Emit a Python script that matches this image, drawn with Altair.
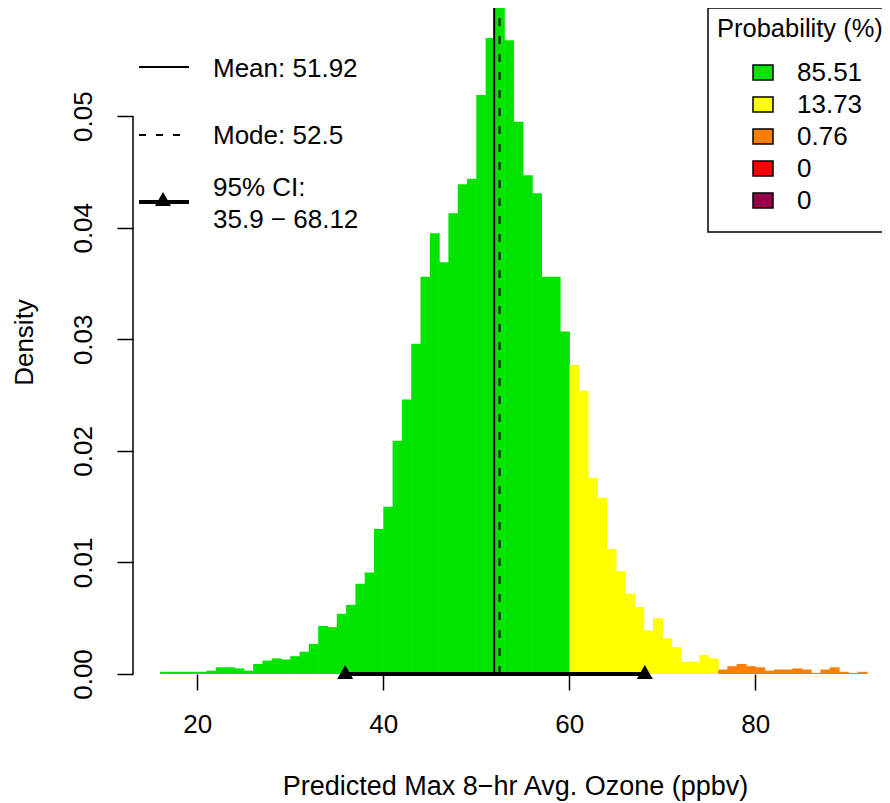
import altair as alt
import pandas as pd

# ---------------- data ----------------
bin_starts = list(range(16, 92))
density = [
    0.0002, 0.0002, 0.0002, 0.0002, 0.0002, 0.0003, 0.0006, 0.0006, 0.0005, 0.0003,   # 16-25
    0.0009, 0.0012, 0.0014, 0.0013, 0.0016, 0.0020, 0.0027, 0.0043, 0.0042, 0.0054,   # 26-35
    0.0062, 0.0081, 0.0091, 0.0130, 0.0150, 0.0209, 0.0246, 0.0296, 0.0356, 0.0395,   # 36-45
    0.0369, 0.0413, 0.0439, 0.0444, 0.0519, 0.0570, 0.0597, 0.0568, 0.0495, 0.0447,   # 46-55
    0.0431, 0.0356, 0.0356, 0.0307, 0.0277, 0.0254, 0.0176, 0.0158, 0.0112, 0.0092,   # 56-65
    0.0072, 0.0060, 0.0039, 0.0050, 0.0032, 0.0024, 0.0011, 0.0011, 0.0017, 0.0014,   # 66-75
    0.0004, 0.0007, 0.0009, 0.0007, 0.0006, 0.0003, 0.0004, 0.0004, 0.0005, 0.0004,   # 76-85
    0.0001, 0.0004, 0.0006, 0.0002, 0.0001, 0.0002,                                   # 86-91
]
category_names = ["Good", "Moderate", "USG", "Unhealthy", "Very Unhealthy"]
category_colors = ["#00E400", "#FFFF00", "#FF7E00", "#FF0000", "#99004C"]
category_breaks = [60, 76, 96, 116]
probabilities = [85.51, 13.73, 0.76, 0, 0]
mean_val = 51.92
mode_val = 52.5
ci_bounds = [35.9, 68.12]
x_ticks = [20, 40, 60, 80]
y_ticks = [0.0, 0.01, 0.02, 0.03, 0.04, 0.05]

def cat_of(v):
    return category_names[sum(1 for b in category_breaks if v >= b)]

df = pd.DataFrame({
    "start": bin_starts,
    "end": [s + 1 for s in bin_starts],
    "density": density,
    "category": [cat_of(s) for s in bin_starts],
})

# ---------------- layout ----------------
FONT = "Liberation Sans"
FS = 26
W, H = 749, 666
PX_PER_UNIT = 9.3
XMIN = 20 - 64.3 / PX_PER_UNIT
XMAX = XMIN + W / PX_PER_UNIT
YMAX = max(density)

label_expr = " : ".join(
    f"datum.label == '{n}' ? '{p:g}'" for n, p in zip(category_names, probabilities)
) + " : datum.label"

xscale = alt.Scale(domain=[XMIN, XMAX], nice=False, zero=False)
yscale = alt.Scale(domain=[0, YMAX], nice=False, zero=True)
cat_scale = alt.Scale(domain=category_names, range=category_colors)

x_axis = alt.Axis(
    values=x_ticks, format="d", title="Predicted Max 8\u2212hr Avg. Ozone (ppbv)",
    domain=False, tickSize=16, tickWidth=1.5, tickColor="black",
    labelBaseline="alphabetic", labelPadding=42, labelAngle=0, labelFlush=False,
    labelFont=FONT, labelFontSize=FS, labelColor="black",
    titleFont=FONT, titleFontSize=27, titleFontWeight="normal", titleColor="black",
    titleX=382, titleY=120, titleBaseline="alphabetic", titleAlign="center",
)
y_axis = alt.Axis(
    values=y_ticks, format=".2f", title="Density",
    domain=False, tickSize=16, tickWidth=1.5, tickColor="black",
    labelAngle=270, labelAlign="center", labelBaseline="alphabetic",
    labelPadding=26, labelFlush=False, labelOverlap=False,
    labelFont=FONT, labelFontSize=FS, labelColor="black",
    titleFont=FONT, titleFontSize=FS, titleFontWeight="normal", titleColor="black",
    titleAngle=270, titleX=-101, titleY=334, titleBaseline="alphabetic", titleAlign="center",
)
legend = alt.Legend(
    title="Probability (%)", orient="none", legendX=575, legendY=0, direction="vertical",
    padding=9,
    titleFont=FONT, titleFontSize=25.5, titleFontWeight="normal", titleColor="black",
    titlePadding=17, titleAnchor="start",
    labelFont=FONT, labelFontSize=FS, labelColor="black", labelExpr=label_expr,
    symbolType="M-1,-0.75H1V0.75H-1Z", symbolSize=400, symbolStrokeColor="black",
    symbolStrokeWidth=1.5, symbolOpacity=1, symbolOffset=33, labelOffset=21, rowPadding=6,
)

# x2Offset makes each bin overlap its neighbour by half a pixel (hides anti-aliasing seams)
bars = alt.Chart(df).mark_rect(strokeWidth=0, x2Offset=0.6).encode(
    x=alt.X("start:Q", scale=xscale, axis=x_axis),
    x2="end:Q",
    y=alt.Y("density:Q", scale=yscale, axis=y_axis),
    y2=alt.datum(0),
    color=alt.Color("category:N", scale=cat_scale, legend=legend),
)

one = alt.Data(values=[{}])

legend_box = alt.Chart(one).mark_rect(fill="white", stroke="black", strokeWidth=1.5).encode(
    x=alt.value(575), x2=alt.value(830), y=alt.value(0), y2=alt.value(224))

y_line = alt.Chart(one).mark_rule(color="black", strokeWidth=1.5).encode(
    x=alt.value(0), y=alt.datum(0), y2=alt.datum(y_ticks[-1]))

mean_rule = alt.Chart(one).mark_rule(color="black", strokeWidth=2).encode(
    x=alt.datum(mean_val), y=alt.datum(0), y2=alt.datum(YMAX))
mode_rule = alt.Chart(one).mark_rule(color="black", strokeWidth=2, strokeDash=[8, 10]).encode(
    x=alt.datum(mode_val), y=alt.datum(0), y2=alt.datum(YMAX))

ci_rule = alt.Chart(one).mark_rule(color="black", strokeWidth=4).encode(
    x=alt.datum(ci_bounds[0]), x2=alt.datum(ci_bounds[1]), y=alt.datum(0))
ci_pts = alt.Chart(pd.DataFrame({"v": ci_bounds})).mark_point(
    shape="triangle-up", filled=True, size=256, color="black", opacity=1, yOffset=-2
).encode(x=alt.X("v:Q"), y=alt.datum(0))

# left annotation legend
leg_mean = alt.Chart(one).mark_rule(color="black", strokeWidth=2).encode(
    x=alt.value(6), x2=alt.value(56), y=alt.value(59))
leg_mode = alt.Chart(one).mark_rule(color="black", strokeWidth=2, strokeDash=[7, 10]).encode(
    x=alt.value(6), x2=alt.value(56), y=alt.value(127))
leg_ci = alt.Chart(one).mark_rule(color="black", strokeWidth=4).encode(
    x=alt.value(6), x2=alt.value(56), y=alt.value(194))
leg_tri = alt.Chart(one).mark_point(
    shape="triangle-up", filled=True, size=256, color="black", opacity=1
).encode(x=alt.value(30), y=alt.value(191))

def txt(s, x, y):
    return alt.Chart(one).mark_text(
        align="left", baseline="alphabetic", font=FONT, fontSize=FS, color="black"
    ).encode(x=alt.value(x), y=alt.value(y), text=alt.value(s))

texts = [
    txt(f"Mean: {mean_val:g}", 80, 68.7),
    txt(f"Mode: {mode_val:g}", 80, 136),
    txt("95% CI:", 80, 188),
    txt(f"{ci_bounds[0]:g} \u2212 {ci_bounds[1]:g}", 80, 219.7),
]

chart = alt.layer(
    legend_box, bars, y_line, mean_rule, mode_rule, ci_rule, ci_pts,
    leg_mean, leg_mode, leg_ci, leg_tri, *texts
).properties(
    width=W, height=H,
    autosize=alt.AutoSizeParams(type="none"),
    padding={"left": 125, "top": 0, "right": 0, "bottom": 129},
).configure_view(stroke=None).configure_axis(grid=False)

chart.save("out.html", embed_options={"renderer": "svg", "actions": False})
